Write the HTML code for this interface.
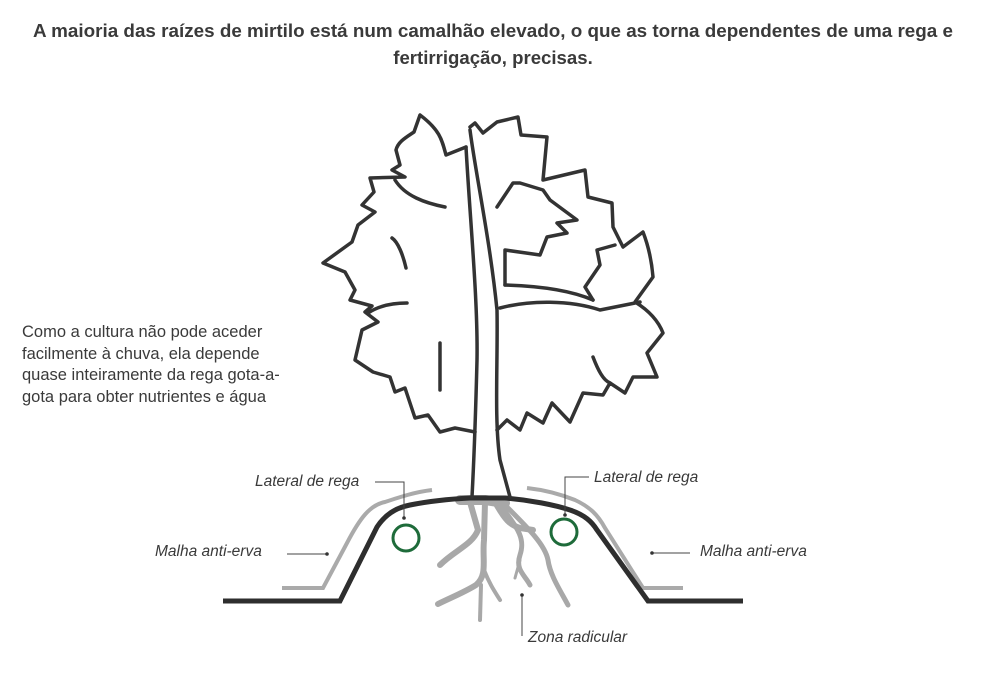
<!DOCTYPE html>
<html><head><meta charset="utf-8"><style>
body{margin:0;width:982px;height:682px;background:#fff;overflow:hidden;font-family:"Liberation Sans",sans-serif}
</style></head><body>
<svg width="982" height="682" viewBox="0 0 982 682" xmlns="http://www.w3.org/2000/svg">
<g font-family="Liberation Sans, sans-serif" fill="#3a3a3a">
<text x="493" y="37" font-size="18.6" font-weight="bold" text-anchor="middle" textLength="920" lengthAdjust="spacingAndGlyphs">A maioria das raízes de mirtilo está num camalhão elevado, o que as torna dependentes de uma rega e</text>
<text x="493" y="64" font-size="18.6" font-weight="bold" text-anchor="middle">fertirrigação, precisas.</text>
<g font-size="16.5">
<text x="22" y="337">Como a cultura não pode aceder</text>
<text x="22" y="359">facilmente à chuva, ela depende</text>
<text x="22" y="380">quase inteiramente da rega gota-a-</text>
<text x="22" y="402">gota para obter nutrientes e água</text>
</g>
<g font-size="15.5" font-style="italic">
<text x="255" y="486">Lateral de rega</text>
<text x="594" y="482">Lateral de rega</text>
<text x="155" y="556">Malha anti-erva</text>
<text x="700" y="556">Malha anti-erva</text>
<text x="528" y="642">Zona radicular</text>
</g>
</g>
<g stroke="#a8a8a8" fill="none" stroke-linecap="round" stroke-linejoin="round">
<path d="M470,502 L478,530 C472,545 455,550 440,565" stroke-width="6"/>
<path d="M485,502 L484,540 C482,560 488,575 476,585 C465,592 450,598 438,604" stroke-width="6"/>
<path d="M484,570 C490,585 495,592 500,600" stroke-width="4"/>
<path d="M481,585 L480,620" stroke-width="4"/>
<path d="M495,502 C505,520 510,525 520,528 L533,530" stroke-width="6"/>
<path d="M500,505 C520,530 525,540 520,555 C515,570 525,575 530,585" stroke-width="5"/>
<path d="M505,505 C530,530 545,545 548,560 C550,575 560,590 568,605" stroke-width="5"/>
<path d="M520,560 L515,578" stroke-width="3"/>
<path d="M460,500 L485,500 L505,503" stroke-width="10"/>
</g>
<g stroke="#aaa" stroke-width="4" fill="none">
<path d="M282,588 L323,588 L347,543 C360,518 370,505 385,502 C400,497 415,492 432,490"/>
<path d="M527,488 C545,490 560,494 575,500 C590,507 598,515 605,528 L643,588 L683,588"/>
</g>
<path d="M223,601 L340,601 L377,527 C385,515 395,508 410,505 C430,501 450,499 470,498 L505,498 C530,500 555,505 570,510 C585,515 592,522 597,530 L648,601 L743,601" stroke="#2e2e2e" stroke-width="5" fill="none"/>
<circle cx="406" cy="538" r="13" stroke="#1e6b3a" stroke-width="3" fill="none"/>
<circle cx="564" cy="532" r="13" stroke="#1e6b3a" stroke-width="3" fill="none"/>
<g stroke="#444" stroke-width="1" fill="none">
<path d="M375,482 L404,482 L404,517"/>
<path d="M565,515 L565,477 L589,477"/>
<path d="M287,554 L327,554"/>
<path d="M652,553 L690,553"/>
<path d="M522,595 L522,636"/>
</g>
<g fill="#333"><circle cx="404" cy="518" r="1.8"/><circle cx="565" cy="515" r="1.8"/><circle cx="327" cy="554" r="1.8"/><circle cx="652" cy="553" r="1.8"/><circle cx="522" cy="595" r="1.8"/></g>
<g stroke="#333" stroke-width="3.5" fill="none" stroke-linejoin="round" stroke-linecap="round">
<path d="M466,147 C470,220 478,300 477,360 C476,400 475,440 472,497"/>
<path d="M470,130 C475,170 490,240 497,310 C498,360 494,420 500,460 L510,497"/>
<path d="M466,147 L446,155 C442,140 440,130 420,115 L414,132 C405,138 398,142 396,150 L400,165 L392,170 L405,177 L370,178 L374,192 L362,205 L375,212 L358,225 L352,242 L323,263 L345,272 L355,290 L350,300 L372,306 L365,312 L378,322 L362,330 L355,360 L373,372 L390,377 L395,392 L405,388 L415,418 L428,415 L440,432 L455,428 L475,432"/>
<path d="M445,207 C425,203 405,196 395,180"/>
<path d="M406,268 C403,255 398,242 392,238"/>
<path d="M407,303 C395,303 380,305 368,313"/>
<path d="M440,343 L440,390"/>
<path d="M470,127 L475,123 L483,133 L497,122 L518,117 L521,135 L547,137 L543,180 L585,170 L588,197 L612,203 L613,227 L623,247 L643,232 C650,250 652,265 653,277 L635,302 C648,310 658,320 663,333 L647,353 L657,377 L633,377 L625,393 L610,383 L603,395 L583,393 L570,422 L552,403 L543,423 L527,413 L520,430 L507,420 L497,430"/>
<path d="M593,357 C598,370 603,380 610,383"/>
<path d="M500,308 C530,300 570,300 600,310 L640,302"/>
<path d="M505,285 L505,250 L540,255 L547,237 L567,233 L557,223 L577,220 L550,200 L543,190 L520,183 L513,183 L497,207"/>
<path d="M505,285 C540,286 570,290 593,300"/>
<path d="M593,300 L585,287 L600,265 L597,250 L615,245"/>
</g>
</svg>
</body></html>
